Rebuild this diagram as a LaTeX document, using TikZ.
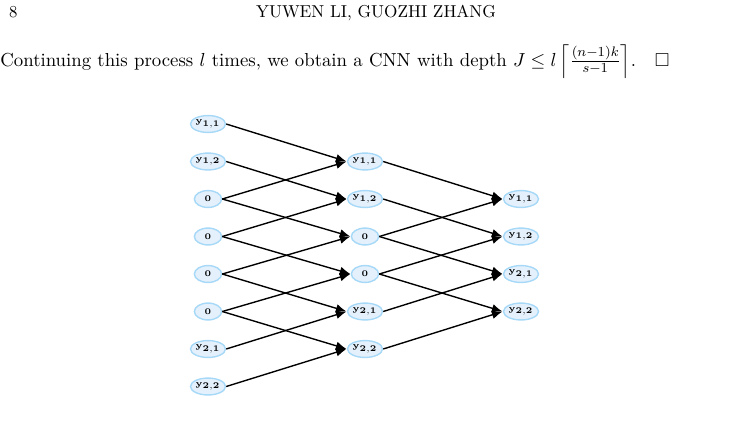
\documentclass[tikz,border=0pt]{standalone}
\usepackage{amsmath, amssymb}
\usetikzlibrary{positioning, arrows.meta, shapes.geometric}
\definecolor{NodeFill}{HTML}{E4F1FC}
\definecolor{NodeDraw}{HTML}{A6D8F7}
\tikzset{
    ynode/.style={ellipse, draw=NodeDraw, fill=NodeFill, thick, minimum width=15.8pt, minimum height=9.8pt, inner sep=0pt, font=\fontsize{4}{5}\selectfont},
    arrow/.style={-{Latex[length=6pt, width=5pt]}, thick, color=black, shorten >=0.3pt},
}
\begin{document}
\begin{tikzpicture}[x=0.58pt, y=-0.58pt]
    \useasboundingbox (0,0) rectangle (729,430);
    % intestazione e testo
    \node[anchor=base west, font=\fontsize{9.7}{11}\selectfont] (pg) at (3,17) {8};
    \node[anchor=base, font=\fontsize{10}{11}\selectfont] (hd) at (376,17) {YUWEN LI, GUOZHI ZHANG};
    \node[anchor=base west, inner sep=0pt, font=\fontsize{10.9}{13}\selectfont] (txt) at (0,66)
        {Continuing this process $l$ times, we obtain a CNN with depth $J\leq l\left\lceil\frac{(n-1)k}{s-1}\right\rceil$.\quad$\square$};

    % colonna di ingresso
    \foreach \lab [count=\i] in {y_{1,1}, y_{1,2}, 0, 0, 0, 0, y_{2,1}, y_{2,2}}
        \node[ynode] (a\i) at (208, 86.5+37.5*\i) {$\mathbf{\lab}$};
    % colonna intermedia
    \foreach \lab [count=\i from 2] in {y_{1,1}, y_{1,2}, 0, 0, y_{2,1}, y_{2,2}}
        \node[ynode] (b\i) at (365, 86.5+37.5*\i) {$\mathbf{\lab}$};
    % colonna di uscita
    \foreach \lab [count=\i from 3] in {y_{1,1}, y_{1,2}, y_{2,1}, y_{2,2}}
        \node[ynode] (c\i) at (521, 86.5+37.5*\i) {$\mathbf{\lab}$};

    % collegamenti
    \foreach \i in {3,...,8} \draw[arrow] (a\i.east) -- (b\the\numexpr\i-1\relax.west);
    \foreach \i in {1,...,6} \draw[arrow] (a\i.east) -- (b\the\numexpr\i+1\relax.west);
    \foreach \i in {4,...,7} \draw[arrow] (b\i.east) -- (c\the\numexpr\i-1\relax.west);
    \foreach \i in {2,...,5} \draw[arrow] (b\i.east) -- (c\the\numexpr\i+1\relax.west);
\end{tikzpicture}
\end{document}
